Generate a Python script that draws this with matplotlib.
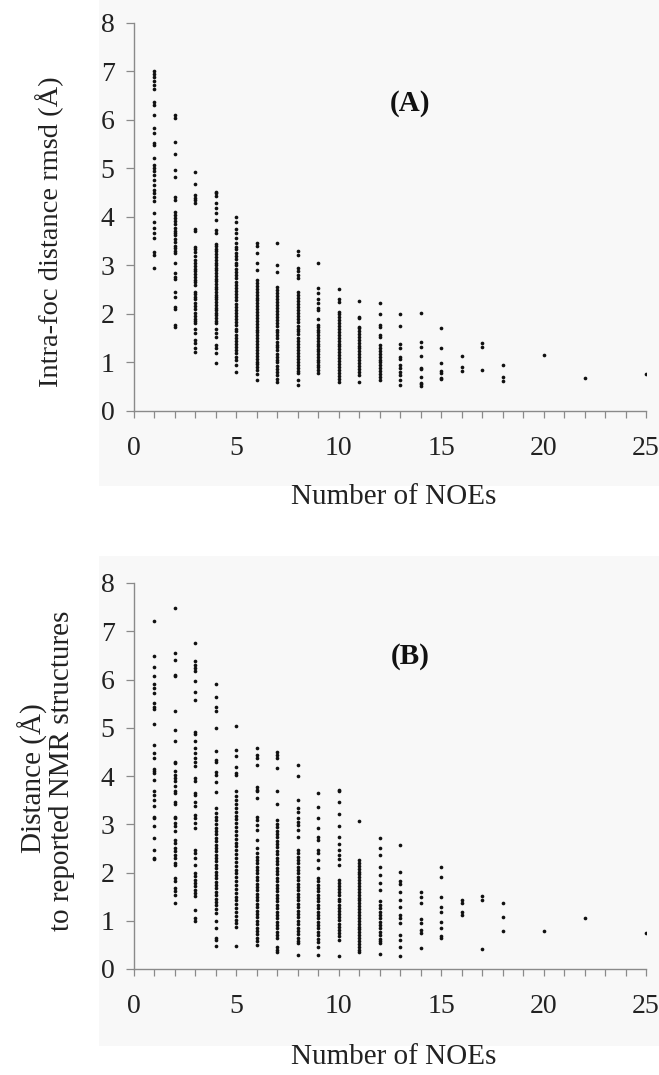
import matplotlib
matplotlib.use("Agg")
import matplotlib.pyplot as plt
from matplotlib.patches import Rectangle

plt.rcParams['font.family'] = ['Liberation Serif', 'DejaVu Serif']

# ---------------- data ----------------
noe_A = [1, 2, 3, 4, 5, 6, 7, 8, 9, 10, 11, 12, 13, 14, 15, 16, 17, 18, 20, 22, 25]
rmsd_A = [
    [7.00, 6.95, 6.88, 6.80, 6.73, 6.64, 6.38, 6.31, 6.11, 5.83, 5.73, 5.52, 5.49, 5.21, 5.07, 5.01,
     4.94, 4.87, 4.76, 4.66, 4.56, 4.49, 4.42, 4.32, 4.08, 3.90, 3.77, 3.66, 3.56, 3.28, 3.22, 2.94],
    [6.10, 6.05, 5.55, 5.29, 4.97, 4.83, 4.42, 4.35, 4.11, 4.04, 3.97, 3.92, 3.85, 3.78, 3.72, 3.68,
     3.62, 3.55, 3.48, 3.41, 3.36, 3.30, 3.25, 3.05, 2.84, 2.77, 2.72, 2.46, 2.35, 2.15, 2.10, 1.78, 1.73],
    [4.93, 4.69, 4.45, 4.40, 4.35, 4.28, 3.76, 3.72, 3.39, 3.33, 3.27, 3.20, 3.12, 3.05, 2.98, 2.93,
     2.88, 2.83, 2.77, 2.71, 2.65, 2.60, 2.46, 2.41, 2.36, 2.30, 2.22, 2.16, 2.10, 2.03, 1.95, 1.90,
     1.85, 1.81, 1.70, 1.60, 1.47, 1.40, 1.29, 1.22],
    [4.52, 4.49, 4.44, 4.28, 4.18, 4.08, 3.94, 3.73, 3.66, 3.44, 3.40, 3.35, 3.30, 3.24, 3.18, 3.12,
     3.06, 3.00, 2.95, 2.90, 2.84, 2.78, 2.73, 2.68, 2.62, 2.56, 2.51, 2.46, 2.40, 2.35, 2.30, 2.24,
     2.19, 2.13, 2.08, 2.02, 1.97, 1.91, 1.86, 1.81, 1.70, 1.60, 1.53, 1.36, 1.29, 1.19, 0.98],
    [4.01, 3.90, 3.76, 3.66, 3.56, 3.46, 3.39, 3.33, 3.26, 3.20, 3.13, 3.06, 3.00, 2.93, 2.86, 2.80,
     2.74, 2.67, 2.60, 2.54, 2.47, 2.41, 2.35, 2.28, 2.21, 2.15, 2.09, 2.02, 1.96, 1.89, 1.83, 1.77,
     1.70, 1.64, 1.57, 1.51, 1.45, 1.38, 1.32, 1.26, 1.19, 1.12, 1.05, 0.95, 0.81],
    [3.47, 3.41, 3.25, 3.06, 2.91, 2.70, 2.64, 2.58, 2.52, 2.46, 2.40, 2.34, 2.28, 2.22, 2.16, 2.10,
     2.04, 1.98, 1.92, 1.86, 1.80, 1.74, 1.68, 1.62, 1.56, 1.50, 1.44, 1.38, 1.32, 1.26, 1.20, 1.14,
     1.08, 1.02, 0.96, 0.90, 0.84, 0.76, 0.64],
    [3.46, 3.01, 2.87, 2.56, 2.50, 2.44, 2.38, 2.31, 2.25, 2.19, 2.12, 2.06, 2.00, 1.94, 1.87, 1.81,
     1.75, 1.68, 1.62, 1.56, 1.50, 1.43, 1.37, 1.31, 1.25, 1.18, 1.12, 1.06, 1.00, 0.93, 0.87, 0.81,
     0.74, 0.67, 0.60],
    [3.29, 3.22, 2.94, 2.89, 2.80, 2.75, 2.46, 2.40, 2.33, 2.27, 2.21, 2.14, 2.08, 2.02, 1.95, 1.89,
     1.83, 1.76, 1.70, 1.64, 1.58, 1.51, 1.45, 1.39, 1.32, 1.26, 1.20, 1.14, 1.07, 1.01, 0.95, 0.89,
     0.83, 0.78, 0.64, 0.54],
    [3.05, 2.54, 2.43, 2.31, 2.22, 2.12, 2.08, 1.89, 1.78, 1.73, 1.67, 1.62, 1.56, 1.50, 1.45, 1.39,
     1.34, 1.28, 1.23, 1.17, 1.12, 1.06, 1.01, 0.95, 0.90, 0.84, 0.78],
    [2.52, 2.31, 2.25, 2.05, 2.01, 1.94, 1.87, 1.81, 1.75, 1.69, 1.63, 1.57, 1.51, 1.45, 1.39, 1.33,
     1.27, 1.21, 1.15, 1.09, 1.03, 0.97, 0.91, 0.85, 0.79, 0.72, 0.66, 0.60],
    [2.27, 1.94, 1.91, 1.74, 1.71, 1.65, 1.59, 1.53, 1.47, 1.41, 1.35, 1.29, 1.23, 1.17, 1.11, 1.05,
     0.99, 0.93, 0.87, 0.80, 0.74, 0.60],
    [2.23, 2.00, 1.77, 1.74, 1.57, 1.53, 1.36, 1.30, 1.24, 1.18, 1.12, 1.06, 1.00, 0.94, 0.88, 0.82,
     0.76, 0.70, 0.64],
    [2.00, 1.75, 1.38, 1.29, 1.12, 1.08, 0.95, 0.88, 0.81, 0.74, 0.64, 0.54],
    [2.03, 1.43, 1.31, 1.13, 0.89, 0.86, 0.71, 0.58, 0.55, 0.51],
    [1.71, 1.29, 0.99, 0.82, 0.79, 0.69, 0.66],
    [1.13, 0.90, 0.83],
    [1.41, 1.31, 0.85],
    [0.95, 0.70, 0.62],
    [1.15],
    [0.69],
    [0.76],
]

noe_B = [1, 2, 3, 4, 5, 6, 7, 8, 9, 10, 11, 12, 13, 14, 15, 16, 17, 18, 20, 22, 25]
dist_B = [
    [7.21, 6.49, 6.26, 6.07, 5.91, 5.82, 5.72, 5.51, 5.44, 5.39, 5.08, 4.65, 4.48, 4.37, 4.15, 4.11,
     4.06, 3.92, 3.68, 3.61, 3.51, 3.37, 3.16, 3.13, 2.96, 2.72, 2.46, 2.30, 2.27],
    [7.48, 6.55, 6.41, 6.10, 6.07, 5.34, 4.96, 4.72, 4.30, 4.27, 4.10, 4.03, 3.96, 3.89, 3.79, 3.68,
     3.65, 3.47, 3.41, 3.16, 3.13, 3.03, 2.96, 2.85, 2.68, 2.61, 2.51, 2.44, 2.37, 2.30, 2.20, 2.16,
     1.89, 1.82, 1.68, 1.61, 1.54, 1.37],
    [6.76, 6.38, 6.31, 6.24, 6.17, 5.96, 5.75, 5.57, 4.91, 4.88, 4.72, 4.59, 4.48, 4.37, 4.30, 4.21,
     3.96, 3.89, 3.65, 3.61, 3.47, 3.37, 3.20, 3.13, 3.03, 2.92, 2.47, 2.40, 2.30, 2.16, 1.99, 1.92,
     1.85, 1.78, 1.71, 1.64, 1.58, 1.51, 1.23, 1.06, 0.99],
    [5.91, 5.64, 5.44, 5.34, 4.99, 4.51, 4.34, 4.30, 4.08, 4.03, 3.87, 3.67, 3.34, 3.23, 3.15, 3.08,
     3.00, 2.93, 2.86, 2.79, 2.72, 2.65, 2.58, 2.51, 2.44, 2.37, 2.30, 2.23, 2.16, 2.09, 2.02, 1.95,
     1.88, 1.81, 1.74, 1.67, 1.60, 1.53, 1.46, 1.39, 1.32, 1.25, 1.16, 0.99, 0.85, 0.64, 0.61, 0.48],
    [5.03, 4.53, 4.42, 4.18, 4.06, 4.03, 3.68, 3.58, 3.50, 3.42, 3.34, 3.26, 3.18, 3.10, 3.02, 2.94,
     2.86, 2.78, 2.70, 2.62, 2.54, 2.46, 2.38, 2.30, 2.22, 2.14, 2.06, 1.98, 1.90, 1.82, 1.74, 1.66,
     1.58, 1.50, 1.42, 1.34, 1.26, 1.18, 1.10, 1.02, 0.95, 0.88, 0.47],
    [4.57, 4.44, 4.37, 4.23, 3.78, 3.71, 3.68, 3.54, 3.15, 3.08, 2.98, 2.88, 2.67, 2.50, 2.40, 2.33,
     2.26, 2.19, 2.12, 2.05, 1.98, 1.91, 1.84, 1.77, 1.70, 1.63, 1.56, 1.49, 1.42, 1.35, 1.28, 1.21,
     1.14, 1.07, 1.00, 0.93, 0.86, 0.79, 0.72, 0.65, 0.57, 0.50],
    [4.50, 4.44, 4.37, 4.17, 3.68, 3.41, 3.08, 3.01, 2.94, 2.87, 2.80, 2.73, 2.66, 2.59, 2.52, 2.45,
     2.38, 2.31, 2.24, 2.17, 2.10, 2.03, 1.96, 1.89, 1.82, 1.75, 1.68, 1.61, 1.54, 1.47, 1.40, 1.33,
     1.26, 1.19, 1.12, 1.05, 0.98, 0.91, 0.84, 0.77, 0.70, 0.64, 0.46, 0.39, 0.36],
    [4.23, 3.99, 3.50, 3.33, 3.26, 3.12, 3.05, 2.98, 2.88, 2.74, 2.47, 2.40, 2.33, 2.26, 2.19, 2.12,
     2.05, 1.98, 1.91, 1.84, 1.77, 1.70, 1.63, 1.56, 1.49, 1.42, 1.35, 1.28, 1.21, 1.14, 1.07, 1.00,
     0.93, 0.86, 0.79, 0.72, 0.65, 0.59, 0.53, 0.29],
    [3.65, 3.36, 3.12, 2.92, 2.74, 2.67, 2.47, 2.40, 2.26, 2.09, 1.88, 1.82, 1.75, 1.68, 1.61, 1.54,
     1.47, 1.40, 1.33, 1.26, 1.19, 1.12, 1.05, 0.98, 0.91, 0.84, 0.77, 0.70, 0.63, 0.56, 0.46, 0.29],
    [3.72, 3.68, 3.47, 3.22, 2.97, 2.74, 2.60, 2.47, 2.36, 2.29, 2.16, 1.85, 1.79, 1.72, 1.66, 1.59,
     1.53, 1.46, 1.40, 1.33, 1.27, 1.20, 1.14, 1.07, 1.01, 0.94, 0.88, 0.81, 0.75, 0.68, 0.60, 0.26],
    [3.07, 2.26, 2.20, 2.14, 2.08, 2.02, 1.96, 1.90, 1.84, 1.78, 1.72, 1.66, 1.60, 1.54, 1.48, 1.42,
     1.36, 1.30, 1.24, 1.18, 1.12, 1.06, 1.00, 0.94, 0.88, 0.82, 0.76, 0.70, 0.64, 0.58, 0.52, 0.46,
     0.40, 0.36],
    [2.71, 2.50, 2.36, 2.12, 1.95, 1.78, 1.64, 1.40, 1.33, 1.26, 1.19, 1.12, 1.05, 0.98, 0.91, 0.84,
     0.77, 0.70, 0.63, 0.57, 0.53, 0.32],
    [2.57, 2.01, 1.83, 1.76, 1.60, 1.44, 1.28, 1.12, 1.06, 0.95, 0.71, 0.60, 0.46, 0.27],
    [1.60, 1.50, 1.36, 1.04, 0.96, 0.81, 0.74, 0.43],
    [2.12, 1.91, 1.49, 1.29, 1.19, 0.98, 0.86, 0.68, 0.64],
    [1.43, 1.36, 1.19, 1.12],
    [1.51, 1.44, 0.41],
    [1.36, 1.08, 0.79],
    [0.79],
    [1.05],
    [0.74],
]

xticks = [0, 5, 10, 15, 20, 25]
yticks = [0, 1, 2, 3, 4, 5, 6, 7, 8]

# ---------------- figure ----------------
W, H = 659, 1075
fig = plt.figure(figsize=(W / 100, H / 100), dpi=100)
fig.patch.set_facecolor('white')

# light grey panels behind each chart
for (y0, y1) in [(0, 486), (556, 1046)]:
    fig.patches.append(Rectangle((99 / W, 1 - y1 / H), (W - 99) / W, (y1 - y0) / H,
                                 transform=fig.transFigure, facecolor='#f8f8f8',
                                 edgecolor='none', zorder=-10))

def px_axes(x0, x1, ytop, ybot):
    return fig.add_axes([x0 / W, 1 - ybot / H, (x1 - x0) / W, (ybot - ytop) / H])

ax1 = px_axes(134, 646, 23, 411)
ax2 = px_axes(134, 646, 583, 969)

spine_col = '#8a8a8a'
for ax, xs, ys, tag, tagy in [(ax1, noe_A, rmsd_A, '(A)', 6.35), (ax2, noe_B, dist_B, '(B)', 6.47)]:
    ax.set_zorder(5)
    ax.set_facecolor('none')
    for xv, col in zip(xs, ys):
        ax.scatter([xv] * len(col), col, s=7, marker='o', color='#111111',
                   linewidths=0, zorder=3)
    ax.set_xlim(0, 25)
    ax.set_ylim(0, 8)
    ax.set_xticks(xticks)
    ax.set_xticks(range(0, 26), minor=True)
    ax.set_yticks(yticks)
    for s in ['top', 'right']:
        ax.spines[s].set_visible(False)
    for s in ['left', 'bottom']:
        ax.spines[s].set_color(spine_col)
        ax.spines[s].set_linewidth(1.0)
    ax.tick_params(axis='x', which='both', direction='out', length=5, width=0.9,
                   color=spine_col, pad=13, labelsize=20, labelcolor='#222222')
    ax.tick_params(axis='y', direction='out', length=6, width=0.9, color=spine_col,
                   pad=8, labelsize=20, labelcolor='#222222')
    ax.text(13.5, tagy, tag, fontsize=21, fontweight='bold', ha='center', va='center',
            color='#111111')

fig.text(394 / W, 1 - 497 / H, 'Number of NOEs', fontsize=21, ha='center', va='center',
         color='#222222')
fig.text(394 / W, 1 - 1057 / H, 'Number of NOEs', fontsize=21, ha='center', va='center',
         color='#222222')
fig.text(50 / W, 1 - 232 / H, 'Intra-foc distance rmsd (Å)', fontsize=20.5, rotation=90,
         ha='center', va='center', color='#222222')
fig.text(33 / W, 1 - 778 / H, 'Distance (Å)', fontsize=21, rotation=90,
         ha='center', va='center', color='#222222')
fig.text(62 / W, 1 - 771 / H, 'to reported NMR structures', fontsize=21, rotation=90,
         ha='center', va='center', color='#222222')

fig.savefig('out.png', dpi=100, facecolor='white')
